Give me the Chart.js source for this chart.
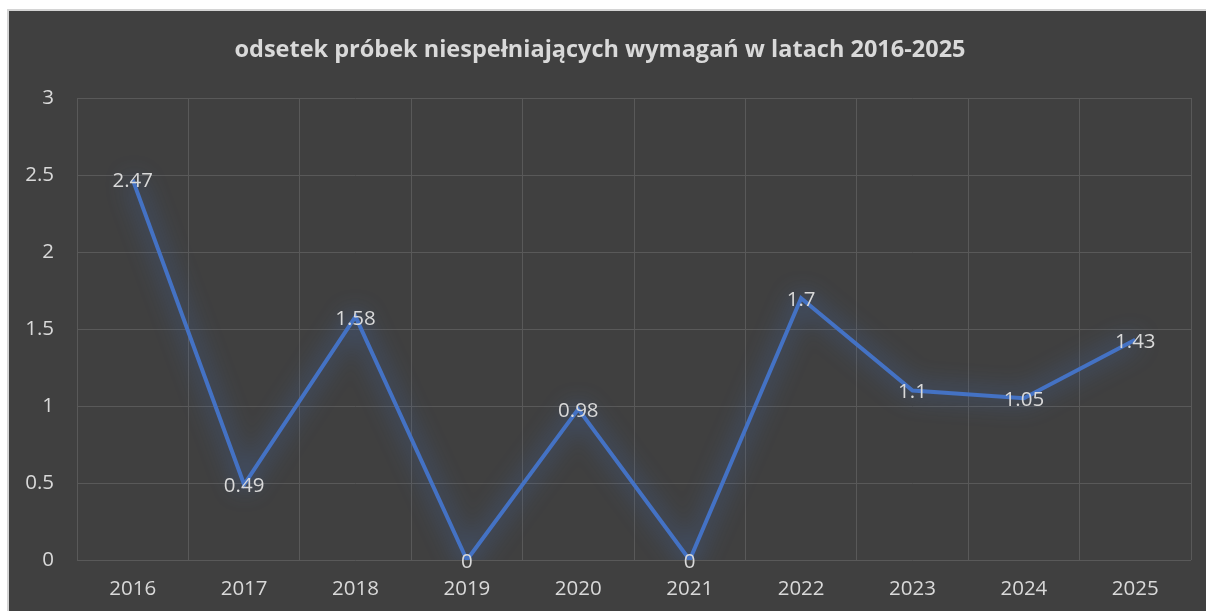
<!DOCTYPE html>
<html>
<head>
<meta charset="utf-8">
<script src="https://cdn.jsdelivr.net/npm/chart.js@4/dist/chart.umd.min.js"></script>
<style>
    body { margin: 0; background: #ffffff; width: 1206px; height: 611px; overflow: hidden; position: relative; }
    #frame {
        position: absolute; left: 7px; top: 9px; width: 1199px; height: 602px;
        background: #404040; border-left: 2px solid #d4d4d4; border-top: 2px solid #d4d4d4;
    }
    #wrap { position: absolute; left: 9px; top: 11px; width: 1197px; height: 600px; }
</style>
</head>
<body>
<div id="frame"></div>
<div id="wrap"><canvas id="chart"></canvas></div>
<script>
"use strict";

// data
const years = ["2016", "2017", "2018", "2019", "2020", "2021", "2022", "2023", "2024", "2025"];
const share = [2.47, 0.49, 1.58, 0, 0.98, 0, 1.7, 1.1, 1.05, 1.43];
const chart_title = "odsetek próbek niespełniających wymagań w latach 2016-2025";

const text_colour = "#d9d9d9";
const grid_colour = "#595959";
const line_colour = "#4472c4";
const font_family = "'Open Sans'";

// soft glow under the line, like the excel style
const glow_plugin = {
    id: "glow",
    beforeDatasetsDraw: function (chart) {
        const ctx = chart.ctx;
        ctx.save();
        ctx.shadowColor = "rgba(68, 114, 196, 1)";
        ctx.shadowBlur = 24;
    },
    afterDatasetsDraw: function (chart) {
        chart.ctx.restore();
    }
};

// value labels centred on each point
const value_labels_plugin = {
    id: "value_labels",
    afterDatasetsDraw: function (chart) {
        const ctx = chart.ctx;
        const pts = chart.getDatasetMeta(0).data;
        ctx.save();
        ctx.font = "20.5px " + font_family;
        ctx.fillStyle = text_colour;
        ctx.textAlign = "center";
        ctx.textBaseline = "middle";
        pts.forEach((p, i) => {
            ctx.fillText(String(share[i]), p.x, p.y + 2);
        });
        ctx.restore();
    }
};

let ctx = document.getElementById("chart").getContext("2d");
window.share_chart = new Chart(ctx, {
    type: "line",
    data: {
        labels: years,
        datasets: [{
            label: "odsetek",
            data: share,
            borderColor: line_colour,
            borderWidth: 4,
            pointRadius: 0,
            tension: 0,
            fill: false
        }]
    },
    plugins: [glow_plugin, value_labels_plugin],
    options: {
        responsive: true,
        maintainAspectRatio: false,
        animation: false,
        layout: { padding: { left: 0, right: 15, top: 0, bottom: 0 } },
        plugins: {
            legend: { display: false },
            tooltip: { enabled: false },
            title: {
                display: true,
                text: chart_title,
                color: text_colour,
                font: { family: font_family, size: 23.5, weight: "bold" },
                padding: { top: 25, bottom: 33.8 }
            }
        },
        scales: {
            x: {
                offset: true,
                grid: { color: grid_colour, offset: true, drawTicks: false },
                border: { display: false },
                ticks: { color: text_colour, font: { family: font_family, size: 20.5 }, padding: 17 },
                afterFit: function (scale) { scale.height = 51; }
            },
            y: {
                min: 0,
                max: 3,
                grid: { color: grid_colour, drawTicks: false },
                border: { display: false },
                ticks: {
                    stepSize: 0.5,
                    color: text_colour,
                    font: { family: font_family, size: 20.5 },
                    padding: 23,
                    callback: v => String(v)
                },
                afterFit: function (scale) { scale.width = 68; }
            }
        }
    }
});
</script>
</body>
</html>
